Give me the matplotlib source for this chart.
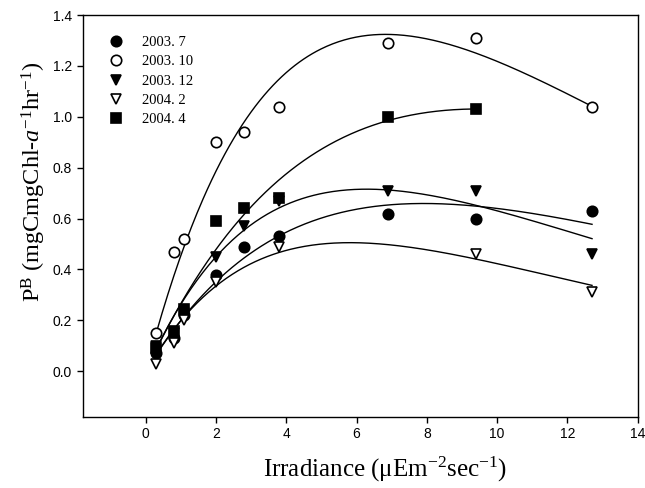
import numpy as np
import matplotlib
matplotlib.use("Agg")
import matplotlib.pyplot as plt

plt.rcParams['font.family'] = ['Liberation Sans', 'DejaVu Sans']
plt.rcParams['mathtext.fontset'] = 'custom'
plt.rcParams['mathtext.rm'] = 'Liberation Serif'
plt.rcParams['mathtext.it'] = 'Liberation Serif:italic'
plt.rcParams['mathtext.bf'] = 'Liberation Serif:bold'

# ---- data ----
labels = ["2003. 7", "2003. 10", "2003. 12", "2004. 2", "2004. 4"]

x_jul03 = [0.3, 0.8, 1.1, 2.0, 2.8, 3.8, 6.9, 9.4, 12.7]
y_jul03 = [0.07, 0.13, 0.22, 0.38, 0.49, 0.53, 0.62, 0.60, 0.63]

x_oct03 = [0.3, 0.8, 1.1, 2.0, 2.8, 3.8, 6.9, 9.4, 12.7]
y_oct03 = [0.15, 0.47, 0.52, 0.90, 0.94, 1.04, 1.29, 1.31, 1.04]

x_dec03 = [0.3, 0.8, 1.1, 2.0, 2.8, 3.8, 6.9, 9.4, 12.7]
y_dec03 = [0.10, 0.15, 0.23, 0.45, 0.57, 0.67, 0.71, 0.71, 0.46]

x_feb04 = [0.3, 0.8, 1.1, 2.0, 3.8, 9.4, 12.7]
y_feb04 = [0.03, 0.11, 0.20, 0.35, 0.49, 0.46, 0.31]

x_apr04 = [0.3, 0.8, 1.1, 2.0, 2.8, 3.8, 6.9, 9.4]
y_apr04 = [0.09, 0.16, 0.245, 0.59, 0.64, 0.68, 1.00, 1.03]

xs = [x_jul03, x_oct03, x_dec03, x_feb04, x_apr04]
ys = [y_jul03, y_oct03, y_dec03, y_feb04, y_apr04]

markers = ['o', 'o', 'v', 'v', 's']
faces = ['black', 'white', 'black', 'white', 'black']
msizes = [7.5, 7.5, 7.5, 7.5, 6.5]


def steele(I, pm, ik):
    """Steele (1962) photosynthesis-irradiance curve."""
    return pm * (I / ik) * np.exp(1.0 - I / ik)


def fit_steele(x, y):
    x = np.asarray(x, float)
    y = np.asarray(y, float)
    best = None
    for ik in np.linspace(1.0, 30.0, 5801):
        f = (x / ik) * np.exp(1.0 - x / ik)
        pm = (f @ y) / (f @ f)
        sse = ((pm * f - y) ** 2).sum()
        if best is None or sse < best[0]:
            best = (sse, pm, ik)
    return best[1], best[2]


fig = plt.figure(figsize=(6.45, 4.88), dpi=100)
ax = fig.add_axes([0.128, 0.1455, 0.8607, 0.8235])

handles = []
for x, y, m, fc, ms, lab in zip(xs, ys, markers, faces, msizes, labels):
    pm, ik = fit_steele(x, y)
    xx = np.linspace(min(x), max(x), 300)
    ax.plot(xx, steele(xx, pm, ik), color='black', lw=1.0, zorder=2)
    h, = ax.plot(x, y, linestyle='none', marker=m, markersize=ms,
                 markerfacecolor=fc, markeredgecolor='black',
                 markeredgewidth=1.2, zorder=3, label=lab)
    handles.append(h)

ax.set_xlim(-1.8, 14)
ax.set_ylim(-0.18, 1.4)
ax.set_xticks(np.arange(0, 15, 2))
ax.set_yticks(np.arange(0, 1.41, 0.2))
ax.yaxis.set_major_formatter(matplotlib.ticker.FormatStrFormatter('%.1f'))
ax.tick_params(direction='out', length=4, width=1, labelsize=10,
               top=False, right=False)
for s in ax.spines.values():
    s.set_linewidth(1.0)

ax.set_xlabel('Irradiance (\u03bcEm$^{-2}$sec$^{-1}$)',
              family='Liberation Serif', fontsize=18)
ax.set_ylabel(r'P$^{\rm B}$ (mgCmgChl-$a^{-1}$hr$^{-1}$)',
              family='Liberation Serif', fontsize=17.5)
ax.xaxis.set_label_coords(0.545, -0.093)
ax.yaxis.set_label_coords(-0.063, 0.585)

leg = ax.legend(handles=handles, loc='upper left', frameon=False,
                prop={'family': 'Liberation Serif', 'size': 10.5},
                handletextpad=1.3, labelspacing=0.42,
                borderaxespad=0.6, handlelength=1.0,
                bbox_to_anchor=(0.02, 0.985))

fig.savefig('out.png', dpi=100)
